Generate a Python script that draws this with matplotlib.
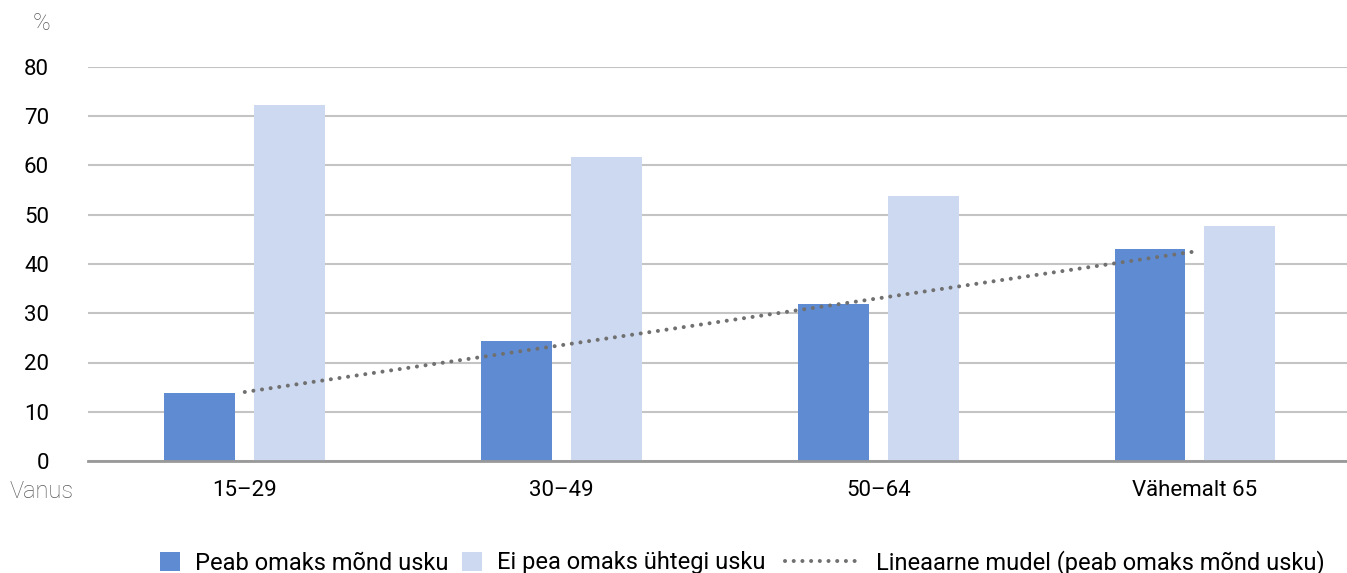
import numpy as np
import matplotlib.pyplot as plt
from matplotlib.lines import Line2D
from matplotlib.patches import Patch

plt.rcParams['font.family'] = ['Roboto', 'DejaVu Sans']

# data
groups = ['15–29', '30–49', '50–64', 'Vähemalt 65']
peab = [13.8, 24.4, 31.9, 43.0]
ei_pea = [72.3, 61.7, 53.8, 47.7]
yticks = [0, 10, 20, 30, 40, 50, 60, 70, 80]
labels = ['Peab omaks mõnd usku', 'Ei pea omaks ühtegi usku',
          'Lineaarne mudel (peab omaks mõnd usku)']

dark = '#5f8bd3'
light = '#cdd9f0'
dots = (0, (0.01, 2.15))

fig = plt.figure(figsize=(13.47, 5.73), dpi=100)
ax = fig.add_axes([88 / 1347, 1 - 461 / 573, 1 - 88 / 1347, (461 - 67) / 573])

x = np.arange(len(groups))
w = 0.224
ax.bar(x - 0.142, peab, width=w, color=dark, zorder=3)
ax.bar(x + 0.142, ei_pea, width=w, color=light, zorder=3)

# linear trend of first series
k, b = np.polyfit(x, peab, 1)
ax.plot(x, k * x + b, color='#707070', linestyle=dots, linewidth=2.9,
        dash_capstyle='round', zorder=4)

ax.set_xlim(-0.495, 3.48)
ax.set_ylim(0, 80)
ax.set_yticks(yticks)
ax.set_xticks(x)
ax.set_xticklabels(groups)
ax.yaxis.grid(True, color='#c4c4c4', linewidth=1.5, zorder=0)
for s in ['top', 'right', 'left']:
    ax.spines[s].set_visible(False)
ax.spines['bottom'].set_color('#999999')
ax.spines['bottom'].set_linewidth(2)
ax.spines['bottom'].set_zorder(5)
ax.tick_params(axis='both', length=0, labelsize=16, colors='black')
ax.tick_params(axis='y', pad=28)
ax.tick_params(axis='x', pad=14)

fig.text(42 / 1347, 1 - 24 / 573, '%', fontsize=17, color='#595959', fontweight='light',
         ha='center', va='center')
fig.text(10 / 1347, 1 - 492 / 573, 'Vanus', fontsize=17, color='#595959', fontweight='light',
         ha='left', va='center')

# legend: three pieces so each handle gets its own length
h1 = Patch(facecolor=dark, label=labels[0])
h2 = Patch(facecolor=light, label=labels[1])
h3 = Line2D([0], [0], color='#707070', linestyle=dots, linewidth=2.9,
            dash_capstyle='round', label=labels[2])
ly = 1 - 563 / 573
for h, lx, hl in [(h1, 160, 0.85), (h2, 462, 0.85), (h3, 785, 3.2)]:
    leg = fig.legend(handles=[h], loc='center left', bbox_to_anchor=(lx / 1347, ly),
                     frameon=False, fontsize=17, handlelength=hl, handleheight=0.9,
                     handletextpad=0.65, borderpad=0, borderaxespad=0)

fig.savefig('out.png', dpi=100)
